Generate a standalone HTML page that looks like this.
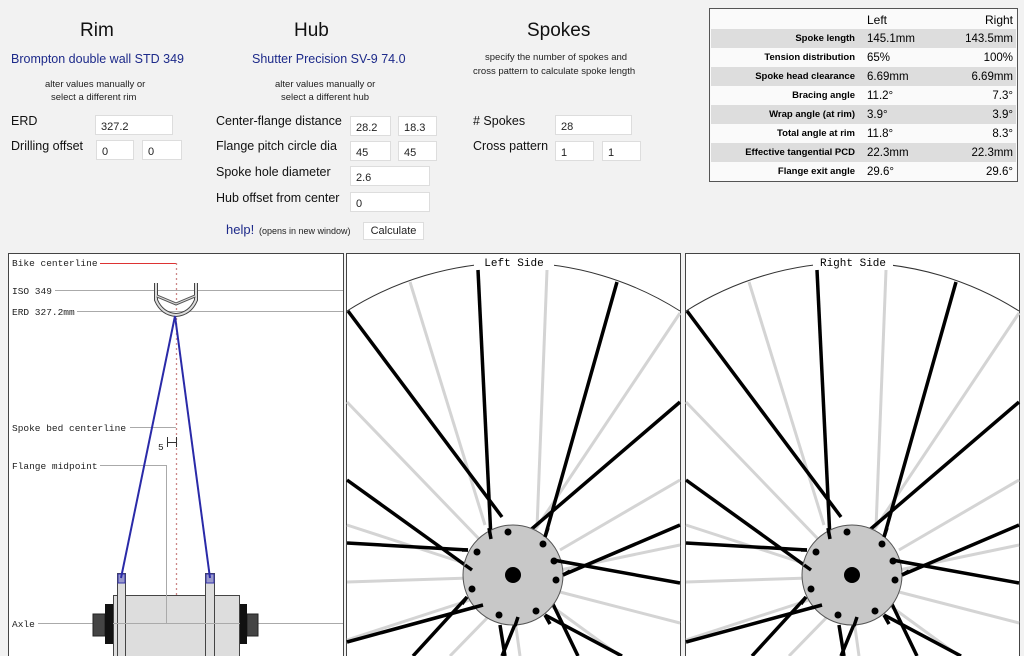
<!DOCTYPE html>
<html><head><meta charset="utf-8"><style>
body{margin:0;width:1024px;height:656px;overflow:hidden;background:#f2f2f2;font-family:"Liberation Sans",sans-serif;position:relative}
.a{position:absolute;white-space:nowrap}
.h{font-size:19px;color:#111}
.lnk{color:#1d2a8a}
.lab{font-size:12.5px;color:#111}
.sm{font-size:9.5px;color:#222}
.in{position:absolute;background:#fff;border:1px solid #ddd;font-size:11px;color:#222;box-sizing:border-box;padding:5px 0 0 5px}
table{border-collapse:collapse}
td{padding:0}
.t{text-align:right;font-size:9.5px;font-weight:bold;padding-right:6px}
.r{text-align:right;padding-right:3px}
</style></head><body>
<div class="a h" style="left:80px;top:20px">Rim</div>
<div class="a h" style="left:294px;top:20px">Hub</div>
<div class="a h" style="left:527px;top:20px">Spokes</div>
<div class="a lnk" style="left:11px;top:52px;font-size:12.5px">Brompton double wall STD 349</div>
<div class="a lnk" style="left:252px;top:52px;font-size:12.5px">Shutter Precision SV-9 74.0</div>
<div class="a sm" style="left:485px;top:52px">specify the number of spokes and</div>
<div class="a sm" style="left:473px;top:66px">cross pattern to calculate spoke length</div>
<div class="a sm" style="left:45px;top:79px">alter values manually or</div>
<div class="a sm lnk" style="left:51px;top:92px">select a different rim</div>
<div class="a sm" style="left:275px;top:79px">alter values manually or</div>
<div class="a sm lnk" style="left:281px;top:92px">select a different hub</div>
<div class="a lab" style="left:11px;top:114px">ERD</div>
<div class="a lab" style="left:11px;top:139px">Drilling offset</div>
<div class="in" style="left:95px;top:115px;width:78px;height:20px">327.2</div>
<div class="in" style="left:96px;top:140px;width:38px;height:20px">0</div>
<div class="in" style="left:142px;top:140px;width:40px;height:20px">0</div>
<div class="a lab" style="left:216px;top:114px">Center-flange distance</div>
<div class="a lab" style="left:216px;top:139px">Flange pitch circle dia</div>
<div class="a lab" style="left:216px;top:165px">Spoke hole diameter</div>
<div class="a lab" style="left:216px;top:191px">Hub offset from center</div>
<div class="in" style="left:350px;top:116px;width:41px;height:20px">28.2</div>
<div class="in" style="left:398px;top:116px;width:39px;height:20px">18.3</div>
<div class="in" style="left:350px;top:141px;width:41px;height:20px">45</div>
<div class="in" style="left:398px;top:141px;width:39px;height:20px">45</div>
<div class="in" style="left:350px;top:166px;width:80px;height:20px">2.6</div>
<div class="in" style="left:350px;top:192px;width:80px;height:20px">0</div>
<div class="a lnk" style="left:226px;top:222px;font-size:13px">help!</div>
<div class="a sm" style="left:259px;top:226px;font-size:9px">(opens in new window)</div>
<div class="a" style="left:363px;top:222px;width:61px;height:18px;background:#fff;border:1px solid #ddd;box-sizing:border-box;font-size:11px;text-align:center;line-height:16px;color:#222">Calculate</div>
<div class="a lab" style="left:473px;top:114px"># Spokes</div>
<div class="a lab" style="left:473px;top:139px">Cross pattern</div>
<div class="in" style="left:555px;top:115px;width:77px;height:20px">28</div>
<div class="in" style="left:555px;top:141px;width:39px;height:20px">1</div>
<div class="in" style="left:602px;top:141px;width:39px;height:20px">1</div>

<div class="a" style="left:709px;top:8px;width:309px;height:174px;border:1px solid #555;box-sizing:border-box;background:#fafafa;font-size:11.5px">
<table style="width:305px;margin:1px">
<tr style="height:19px"><td style="width:150px"></td><td style="font-size:12px;padding-left:6px">Left</td><td class="r" style="font-size:12px">Right</td></tr>
<tr style="height:19px;background:#ddd"><td class="t">Spoke length</td><td style="padding-left:6px">145.1mm</td><td class="r">143.5mm</td></tr>
<tr style="height:19px"><td class="t">Tension distribution</td><td style="padding-left:6px">65%</td><td class="r">100%</td></tr>
<tr style="height:19px;background:#ddd"><td class="t">Spoke head clearance</td><td style="padding-left:6px">6.69mm</td><td class="r">6.69mm</td></tr>
<tr style="height:19px"><td class="t">Bracing angle</td><td style="padding-left:6px">11.2°</td><td class="r">7.3°</td></tr>
<tr style="height:19px;background:#ddd"><td class="t">Wrap angle (at rim)</td><td style="padding-left:6px">3.9°</td><td class="r">3.9°</td></tr>
<tr style="height:19px"><td class="t">Total angle at rim</td><td style="padding-left:6px">11.8°</td><td class="r">8.3°</td></tr>
<tr style="height:19px;background:#ddd"><td class="t">Effective tangential PCD</td><td style="padding-left:6px">22.3mm</td><td class="r">22.3mm</td></tr>
<tr style="height:19px"><td class="t">Flange exit angle</td><td style="padding-left:6px">29.6°</td><td class="r">29.6°</td></tr>
</table></div>

<svg class="a" style="left:0;top:0" width="1024" height="656" viewBox="0 0 1024 656">
<defs>
<g id="wheel">
<rect x="346.5" y="253.5" width="334" height="410" fill="#fff" stroke="#444"/>
<path d="M347,311 A311,311 0 0 1 680,311" fill="none" stroke="#333" stroke-width="1"/>
<g stroke="#d4d4d4" stroke-width="3">
<line x1="410" y1="282" x2="485" y2="525"/><line x1="547" y1="270" x2="537" y2="528"/>
<line x1="680" y1="313" x2="535" y2="530"/><line x1="347" y1="402" x2="480" y2="540"/>
<line x1="680" y1="480" x2="560" y2="550"/><line x1="347" y1="525" x2="470" y2="565"/>
<line x1="680" y1="545" x2="560" y2="570"/><line x1="347" y1="582" x2="470" y2="578"/>
<line x1="680" y1="623" x2="560" y2="592"/><line x1="450" y1="656" x2="490" y2="615"/>
<line x1="520" y1="656" x2="515" y2="620"/><line x1="620" y1="656" x2="550" y2="605"/>
<line x1="347" y1="640" x2="470" y2="600"/>
</g>
<g stroke="#000" stroke-width="3.5">
<line x1="348" y1="311" x2="502" y2="517"/><line x1="478" y1="270" x2="491" y2="539"/>
<line x1="617" y1="282" x2="545" y2="537"/><line x1="680" y1="402" x2="527" y2="533"/>
<line x1="680" y1="525" x2="563" y2="575"/><line x1="680" y1="583" x2="553" y2="560"/>
<line x1="622" y1="656" x2="545" y2="615"/><line x1="578" y1="656" x2="550" y2="598"/>
<line x1="502" y1="656" x2="518" y2="617"/><line x1="505" y1="656" x2="500" y2="625"/>
<line x1="413" y1="656" x2="467" y2="597"/><line x1="347" y1="642" x2="483" y2="605"/>
<line x1="347" y1="543" x2="468" y2="550"/><line x1="347" y1="480" x2="472" y2="570"/>
</g>
<circle cx="513" cy="575" r="50" fill="#c8c8c8" stroke="#555"/>
<g stroke="#000" stroke-width="3.5">
<line x1="491" y1="539" x2="489" y2="528"/><line x1="545" y1="537" x2="548" y2="528"/>
<line x1="563" y1="575" x2="570" y2="571"/><line x1="553" y1="560" x2="564" y2="562"/>
<line x1="545" y1="615" x2="550" y2="624"/><line x1="518" y1="617" x2="515" y2="626"/>
<line x1="467" y1="597" x2="462" y2="604"/><line x1="483" y1="605" x2="472" y2="608"/>
<line x1="468" y1="550" x2="462" y2="550"/><line x1="472" y1="570" x2="465" y2="565"/>
</g>
<g fill="#000">
<circle cx="508" cy="532" r="3.5"/><circle cx="543" cy="544" r="3.5"/><circle cx="477" cy="552" r="3.5"/>
<circle cx="554" cy="561" r="3.5"/><circle cx="556" cy="580" r="3.5"/><circle cx="472" cy="589" r="3.5"/>
<circle cx="536" cy="611" r="3.5"/><circle cx="499" cy="615" r="3.5"/>
<circle cx="513" cy="575" r="8"/></g>
<rect x="474" y="256" width="80" height="12" fill="#fff"/>
</g>
</defs>
<use href="#wheel"/>
<text x="514" y="266" text-anchor="middle" font-family="Liberation Mono,monospace" font-size="11" fill="#000">Left Side</text>
<use href="#wheel" transform="translate(339,0)"/>
<text x="853" y="266" text-anchor="middle" font-family="Liberation Mono,monospace" font-size="11" fill="#000">Right Side</text>

<rect x="8.5" y="253.5" width="335" height="410" fill="#fff" stroke="#444"/>
<g font-family="Liberation Mono,monospace" font-size="9.5" fill="#222">
<text x="12" y="266">Bike centerline</text><text x="12" y="294">ISO 349</text>
<text x="12" y="315">ERD 327.2mm</text><text x="12" y="431">Spoke bed centerline</text>
<text x="12" y="469">Flange midpoint</text><text x="12" y="627">Axle</text>
<text x="158" y="450">5</text></g>
<g stroke="#aaa" stroke-width="1">
<line x1="55" y1="290.5" x2="343" y2="290.5"/><line x1="77" y1="311.5" x2="343" y2="311.5"/>
<line x1="130" y1="427.5" x2="176" y2="427.5"/><line x1="100" y1="465.5" x2="166" y2="465.5"/>
<line x1="38" y1="623.5" x2="343" y2="623.5"/>
</g>
<line x1="100" y1="263.5" x2="176" y2="263.5" stroke="#d33" stroke-width="1"/>
<line x1="176.5" y1="263" x2="176.5" y2="656" stroke="#c88" stroke-width="1.3" stroke-dasharray="2,3"/>
<g stroke="#333" stroke-width="1"><line x1="167.5" y1="437" x2="167.5" y2="447"/><line x1="176.5" y1="437" x2="176.5" y2="447"/><line x1="167" y1="442.5" x2="176" y2="442.5"/></g>
<path d="M156,283 L156,300 Q162,314 176,315 Q190,314 196,300 L196,283" fill="none" stroke="#444" stroke-width="4"/>
<path d="M156,283 L156,300 Q162,314 176,315 Q190,314 196,300 L196,283" fill="none" stroke="#ddd" stroke-width="2"/>
<path d="M157,296 L176,304 L195,296" fill="none" stroke="#555" stroke-width="3"/>
<path d="M157,296 L176,304 L195,296" fill="none" stroke="#ddd" stroke-width="1"/>
<rect x="93" y="614" width="12" height="22" fill="#444" stroke="#222"/>
<rect x="247" y="614" width="11" height="22" fill="#444" stroke="#222"/>
<rect x="105" y="604" width="9" height="40" fill="#111"/>
<rect x="239" y="604" width="8" height="40" fill="#111"/>
<rect x="113.5" y="595.5" width="126" height="70" fill="#ddd" stroke="#444"/>
<rect x="117.5" y="573.5" width="8" height="90" fill="#ddd" stroke="#444"/>
<rect x="205.5" y="573.5" width="9" height="90" fill="#ddd" stroke="#444"/>
<rect x="118" y="574" width="7" height="9" fill="#99c" stroke="#33a"/>
<rect x="206" y="574" width="8" height="9" fill="#99c" stroke="#33a"/>
<g stroke="#2a2aa8" stroke-width="2"><line x1="175" y1="316" x2="121" y2="578"/><line x1="175" y1="316" x2="210" y2="578"/></g>
<line x1="166.5" y1="465" x2="166.5" y2="623" stroke="#aaa"/>
<line x1="113" y1="623.5" x2="240" y2="623.5" stroke="#aaa"/>
</svg>
</body></html>
